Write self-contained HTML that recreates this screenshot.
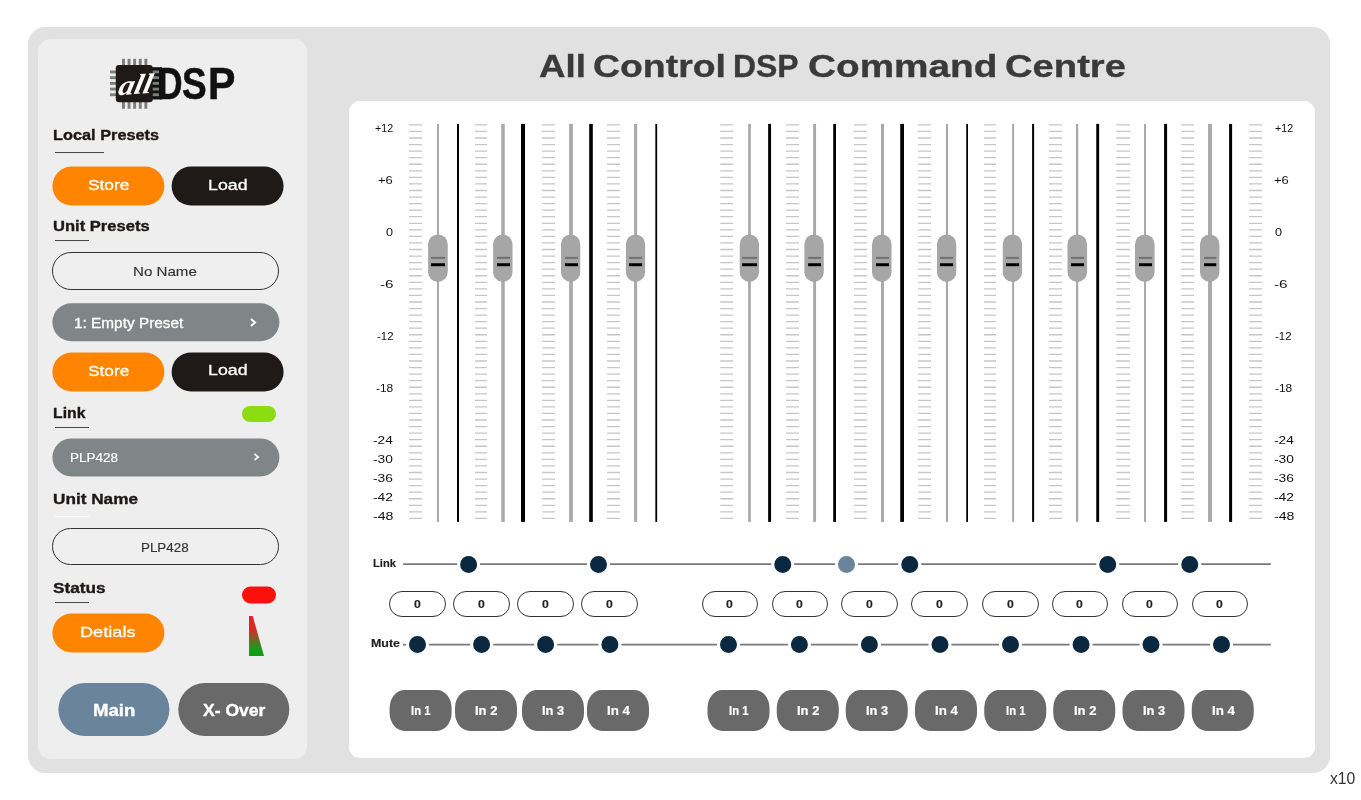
<!DOCTYPE html>
<html lang="en"><head><meta charset="utf-8"><title>All Control DSP Command Centre</title>
<style>
html,body{margin:0;padding:0;background:#fff;}
body{width:1361px;height:800px;position:relative;overflow:hidden;font-family:"Liberation Sans",sans-serif;}
.abs,.t,.btn,.box,.pill,.ul,.led{position:absolute;}
.t{white-space:pre;line-height:1;transform-origin:0 100%;display:block;}
.container{left:28px;top:27px;width:1302px;height:746px;border-radius:17px;background:#e1e1e1;}
.sidebar{left:38px;top:39px;width:269px;height:719.5px;border-radius:13px;background:#eeeeee;}
.panel{left:349px;top:101px;width:966.3px;height:657px;border-radius:11px;background:#fff;}
.btn{border-radius:30px;}
.orange{background:#ff8500;}
.black{background:#1f1a17;}
.main{background:#6a849b;}
.xover{background:#696969;}
.box{border:1px solid #333;border-radius:30px;box-sizing:border-box;background:#efefef;}
.pill{border-radius:30px;background:#808588;}
.ul{height:1.2px;background:#4a4a4a;}
.led{border-radius:10px;}
svg{position:absolute;left:0;top:0;overflow:visible;}
</style></head><body>

<div class="abs container"></div>
<aside>
<div class="abs sidebar"></div>
<svg width="1361" height="800" viewBox="0 0 1361 800" style="pointer-events:none">
<g id="logo">
<g fill="#7d7d7d">
<rect x="122.00" y="58.8" width="2.9" height="7" />
<rect x="122.00" y="101.5" width="2.9" height="7.3" />
<rect x="127.60" y="58.8" width="2.9" height="7" />
<rect x="127.60" y="101.5" width="2.9" height="7.3" />
<rect x="133.20" y="58.8" width="2.9" height="7" />
<rect x="133.20" y="101.5" width="2.9" height="7.3" />
<rect x="138.80" y="58.8" width="2.9" height="7" />
<rect x="138.80" y="101.5" width="2.9" height="7.3" />
<rect x="144.40" y="58.8" width="2.9" height="7" />
<rect x="144.40" y="101.5" width="2.9" height="7.3" />
</g>
<rect x="152" y="67.2" width="10" height="32.3" fill="#111"/>
<g fill="#7d7d7d">
<rect x="110" y="70.50" width="7" height="2.9" />
<rect x="152" y="70.50" width="7" height="2.9" />
<rect x="110" y="76.20" width="7" height="2.9" />
<rect x="152" y="76.20" width="7" height="2.9" />
<rect x="110" y="81.90" width="7" height="2.9" />
<rect x="152" y="81.90" width="7" height="2.9" />
<rect x="110" y="87.60" width="7" height="2.9" />
<rect x="152" y="87.60" width="7" height="2.9" />
<rect x="110" y="93.30" width="7" height="2.9" />
<rect x="152" y="93.30" width="7" height="2.9" />
</g>
<rect x="115.8" y="65" width="37" height="37.2" rx="3.2" fill="#1f1a17"/>
<text transform="translate(117.2 95.2) rotate(-4) skewX(-16)" x="0" y="0" font-family="Liberation Serif,serif" font-style="italic" font-weight="700" font-size="28" fill="#fff" textLength="33.5" lengthAdjust="spacingAndGlyphs">all</text>
</g>
</svg>
<span class="t" style="left:157.70px;top:61.60px;font-size:43.80px;color:#111;transform:scale(0.7740,1.000);font-weight:700;-webkit-text-stroke:0.55px #111;">D</span>
<span class="t" style="left:182.49px;top:61.60px;font-size:43.80px;color:#111;transform:scale(0.8428,1.000);font-weight:700;-webkit-text-stroke:0.55px #111;">S</span>
<span class="t" style="left:208.43px;top:61.60px;font-size:43.80px;color:#111;transform:scale(0.9373,1.000);font-weight:700;-webkit-text-stroke:0.55px #111;">P</span>
<span class="t" style="left:52.94px;top:126.80px;font-size:15.40px;color:#1d1716;transform:scale(1.0601,1.000);font-weight:700;-webkit-text-stroke:0.35px #1d1716;">Local Presets</span>
<div class="ul" style="left:55px;top:151.8px;width:49px"></div>
<div class="btn orange" style="left:52px;top:166px;width:112px;height:39px;transform:translate(0.40px,0.60px);"></div>
<div class="btn black" style="left:171px;top:166px;width:112px;height:39px;transform:translate(0.60px,0.60px);"></div>
<span class="t" style="left:87.82px;top:177.40px;font-size:15.00px;color:#fff;transform:scale(1.1536,1.000);-webkit-text-stroke:0.3px #fff;">Store</span>
<span class="t" style="left:208.18px;top:176.60px;font-size:15.00px;color:#fff;transform:scale(1.1859,1.000);-webkit-text-stroke:0.3px #fff;">Load</span>
<span class="t" style="left:53.01px;top:217.80px;font-size:15.40px;color:#1d1716;transform:scale(1.0756,1.000);font-weight:700;-webkit-text-stroke:0.35px #1d1716;">Unit Presets</span>
<div class="ul" style="left:55px;top:239.8px;width:34px"></div>
<div class="box" style="left:52px;top:252px;width:227px;height:38px;"></div>
<span class="t" style="left:132.79px;top:265.70px;font-size:12.60px;color:#333;transform:scale(1.2002,1.000);-webkit-text-stroke:0.15px #333;">No Name</span>
<div class="pill" style="left:52px;top:303px;width:227px;height:38px;transform:translate(0.40px,0.20px);"></div>
<span class="t" style="left:73.85px;top:315.60px;font-size:14.00px;color:#fff;transform:scale(1.0973,1.000);-webkit-text-stroke:0.3px #fff;">1: Empty Preset</span>
<div class="btn orange" style="left:52px;top:352px;width:112px;height:39px;transform:translate(0.40px,0.40px);"></div>
<div class="btn black" style="left:171px;top:352px;width:112px;height:39px;transform:translate(0.60px,0.40px);"></div>
<span class="t" style="left:87.82px;top:363.20px;font-size:15.00px;color:#fff;transform:scale(1.1536,1.000);-webkit-text-stroke:0.3px #fff;">Store</span>
<span class="t" style="left:208.18px;top:362.40px;font-size:15.00px;color:#fff;transform:scale(1.1859,1.000);-webkit-text-stroke:0.3px #fff;">Load</span>
<span class="t" style="left:52.97px;top:405.20px;font-size:15.40px;color:#1d1716;transform:scale(1.0246,1.000);font-weight:700;-webkit-text-stroke:0.35px #1d1716;">Link</span>
<div class="led" style="left:242px;top:406px;width:34px;height:16px;background:#8bdc10"></div>
<div class="ul" style="left:55px;top:426.8px;width:34px"></div>
<div class="pill" style="left:52px;top:438px;width:227px;height:38px;transform:translate(0.40px,0.40px);"></div>
<span class="t" style="left:69.52px;top:451.80px;font-size:12.60px;color:#fff;transform:scale(1.0705,1.000);-webkit-text-stroke:0.15px #fff;">PLP428</span>
<span class="t" style="left:52.97px;top:491.20px;font-size:15.40px;color:#1d1716;transform:scale(1.1166,1.000);font-weight:700;-webkit-text-stroke:0.35px #1d1716;">Unit Name</span>
<div class="ul" style="left:55px;top:515.8px;width:34px;background:#fff"></div>
<div class="box" style="left:52px;top:528px;width:227px;height:37px;"></div>
<span class="t" style="left:141.33px;top:541.80px;font-size:12.60px;color:#333;transform:scale(1.0613,1.000);-webkit-text-stroke:0.15px #333;">PLP428</span>
<span class="t" style="left:53.48px;top:579.80px;font-size:15.40px;color:#1d1716;transform:scale(1.1181,1.000);font-weight:700;-webkit-text-stroke:0.35px #1d1716;">Status</span>
<div class="led" style="left:242px;top:586px;width:34px;height:17px;transform:translate(0.00px,0.40px);background:#fb100c"></div>
<div class="ul" style="left:55px;top:601.8px;width:34px"></div>
<div class="btn orange" style="left:52px;top:613px;width:112px;height:39px;transform:translate(0.40px,0.40px);"></div>
<span class="t" style="left:80.15px;top:624.40px;font-size:15.00px;color:#fff;transform:scale(1.2109,1.000);-webkit-text-stroke:0.3px #fff;">Detials</span>
<div class="btn main" style="left:58px;top:683px;width:111px;height:53px;transform:translate(0.40px,0.00px);"></div>
<div class="btn xover" style="left:178px;top:683px;width:111px;height:53px;transform:translate(0.30px,0.00px);"></div>
<span class="t" style="left:92.99px;top:702.00px;font-size:16.40px;color:#fff;transform:scale(1.1344,1.000);font-weight:700;-webkit-text-stroke:0.35px #fff;">Main</span>
<span class="t" style="left:202.52px;top:702.00px;font-size:16.40px;color:#fff;transform:scale(1.0712,1.000);font-weight:700;-webkit-text-stroke:0.35px #fff;">X- Over</span>
<svg width="1361" height="800" viewBox="0 0 1361 800">
<path d="M251 318.9l4 3.6-4 3.6" stroke="#fff" stroke-width="2" fill="none"/>
<path d="M254.5 453.8l3.6 3.2-3.6 3.2" stroke="#fff" stroke-width="1.8" fill="none"/>
<defs><linearGradient id="rg" x1="0" y1="0" x2="0" y2="1"><stop offset="0" stop-color="#ee1c25"/><stop offset="0.35" stop-color="#d0302a"/><stop offset="0.8" stop-color="#1a9a1e"/><stop offset="1" stop-color="#0f9d18"/></linearGradient></defs>
<path d="M249 616H252.7L264 656H249Z" fill="url(#rg)"/>
</svg>
</aside>
<h1 style="margin:0;font-size:inherit;font-weight:inherit">
<span class="t" style="left:539.28px;top:50.60px;font-size:31.60px;color:#3a3a3a;transform:scale(1.1612,1.000);font-weight:700;-webkit-text-stroke:0.35px #3a3a3a;">All </span>
<span class="t" style="left:593.00px;top:50.60px;font-size:31.60px;color:#3a3a3a;transform:scale(1.1839,1.000);font-weight:700;-webkit-text-stroke:0.35px #3a3a3a;">Control </span>
<span class="t" style="left:732.92px;top:50.60px;font-size:31.60px;color:#3a3a3a;transform:scale(1.0107,1.000);font-weight:700;-webkit-text-stroke:0.35px #3a3a3a;">DSP </span>
<span class="t" style="left:808.15px;top:50.60px;font-size:31.60px;color:#3a3a3a;transform:scale(1.2261,1.000);font-weight:700;-webkit-text-stroke:0.35px #3a3a3a;">Command </span>
<span class="t" style="left:1004.97px;top:50.60px;font-size:31.60px;color:#3a3a3a;transform:scale(1.2085,1.000);font-weight:700;-webkit-text-stroke:0.35px #3a3a3a;">Centre </span>
</h1>
<main>
<div class="abs panel"></div>
<svg width="1361" height="800" viewBox="0 0 1361 800">
<path d="M409.00 124.90h13.10M409.00 131.46h13.10M409.00 138.02h13.10M409.00 144.58h13.10M409.00 151.13h13.10M409.00 157.69h13.10M409.00 164.25h13.10M409.00 170.81h13.10M409.00 177.37h13.10M409.00 183.93h13.10M409.00 190.48h13.10M409.00 197.04h13.10M409.00 203.60h13.10M409.00 210.16h13.10M409.00 216.72h13.10M409.00 223.28h13.10M409.00 229.83h13.10M409.00 236.39h13.10M409.00 242.95h13.10M409.00 249.51h13.10M409.00 256.07h13.10M409.00 262.62h13.10M409.00 269.18h13.10M409.00 275.74h13.10M409.00 282.30h13.10M409.00 288.86h13.10M409.00 295.42h13.10M409.00 301.98h13.10M409.00 308.53h13.10M409.00 315.09h13.10M409.00 321.65h13.10M409.00 328.21h13.10M409.00 334.77h13.10M409.00 341.33h13.10M409.00 347.88h13.10M409.00 354.44h13.10M409.00 361.00h13.10M409.00 367.56h13.10M409.00 374.12h13.10M409.00 380.68h13.10M409.00 387.23h13.10M409.00 393.79h13.10M409.00 400.35h13.10M409.00 406.91h13.10M409.00 413.47h13.10M409.00 420.02h13.10M409.00 426.58h13.10M409.00 433.14h13.10M409.00 439.70h13.10M409.00 446.26h13.10M409.00 452.82h13.10M409.00 459.38h13.10M409.00 465.93h13.10M409.00 472.49h13.10M409.00 479.05h13.10M409.00 485.61h13.10M409.00 492.17h13.10M409.00 498.73h13.10M409.00 505.28h13.10M409.00 511.84h13.10M409.00 518.40h13.10" stroke="#c6c6c6" stroke-width="1.3" fill="none"/>
<rect x="437.00" y="123.9" width="2" height="398" fill="#a9a9a9"/>
<rect x="457.00" y="123.9" width="2" height="398" fill="#000"/>
<rect x="428.1" y="234.4" width="19.65" height="47.5" rx="9.82" fill="#a6a6a6"/>
<rect x="431" y="256.9" width="14.00" height="1.9" fill="#6c6c6c"/>
<rect x="431" y="263.25" width="14.00" height="2.95" fill="#000"/>
<path d="M475.00 124.90h12.10M475.00 131.46h12.10M475.00 138.02h12.10M475.00 144.58h12.10M475.00 151.13h12.10M475.00 157.69h12.10M475.00 164.25h12.10M475.00 170.81h12.10M475.00 177.37h12.10M475.00 183.93h12.10M475.00 190.48h12.10M475.00 197.04h12.10M475.00 203.60h12.10M475.00 210.16h12.10M475.00 216.72h12.10M475.00 223.28h12.10M475.00 229.83h12.10M475.00 236.39h12.10M475.00 242.95h12.10M475.00 249.51h12.10M475.00 256.07h12.10M475.00 262.62h12.10M475.00 269.18h12.10M475.00 275.74h12.10M475.00 282.30h12.10M475.00 288.86h12.10M475.00 295.42h12.10M475.00 301.98h12.10M475.00 308.53h12.10M475.00 315.09h12.10M475.00 321.65h12.10M475.00 328.21h12.10M475.00 334.77h12.10M475.00 341.33h12.10M475.00 347.88h12.10M475.00 354.44h12.10M475.00 361.00h12.10M475.00 367.56h12.10M475.00 374.12h12.10M475.00 380.68h12.10M475.00 387.23h12.10M475.00 393.79h12.10M475.00 400.35h12.10M475.00 406.91h12.10M475.00 413.47h12.10M475.00 420.02h12.10M475.00 426.58h12.10M475.00 433.14h12.10M475.00 439.70h12.10M475.00 446.26h12.10M475.00 452.82h12.10M475.00 459.38h12.10M475.00 465.93h12.10M475.00 472.49h12.10M475.00 479.05h12.10M475.00 485.61h12.10M475.00 492.17h12.10M475.00 498.73h12.10M475.00 505.28h12.10M475.00 511.84h12.10M475.00 518.40h12.10" stroke="#c6c6c6" stroke-width="1.3" fill="none"/>
<rect x="501.25" y="123.9" width="3.5" height="398" fill="#a9a9a9"/>
<rect x="521.00" y="123.9" width="4" height="398" fill="#000"/>
<rect x="493.1" y="234.4" width="19.40" height="47.5" rx="9.70" fill="#a6a6a6"/>
<rect x="497" y="256.9" width="13.00" height="1.9" fill="#6c6c6c"/>
<rect x="497" y="263.25" width="13.00" height="2.95" fill="#000"/>
<path d="M542.10 124.90h12.90M542.10 131.46h12.90M542.10 138.02h12.90M542.10 144.58h12.90M542.10 151.13h12.90M542.10 157.69h12.90M542.10 164.25h12.90M542.10 170.81h12.90M542.10 177.37h12.90M542.10 183.93h12.90M542.10 190.48h12.90M542.10 197.04h12.90M542.10 203.60h12.90M542.10 210.16h12.90M542.10 216.72h12.90M542.10 223.28h12.90M542.10 229.83h12.90M542.10 236.39h12.90M542.10 242.95h12.90M542.10 249.51h12.90M542.10 256.07h12.90M542.10 262.62h12.90M542.10 269.18h12.90M542.10 275.74h12.90M542.10 282.30h12.90M542.10 288.86h12.90M542.10 295.42h12.90M542.10 301.98h12.90M542.10 308.53h12.90M542.10 315.09h12.90M542.10 321.65h12.90M542.10 328.21h12.90M542.10 334.77h12.90M542.10 341.33h12.90M542.10 347.88h12.90M542.10 354.44h12.90M542.10 361.00h12.90M542.10 367.56h12.90M542.10 374.12h12.90M542.10 380.68h12.90M542.10 387.23h12.90M542.10 393.79h12.90M542.10 400.35h12.90M542.10 406.91h12.90M542.10 413.47h12.90M542.10 420.02h12.90M542.10 426.58h12.90M542.10 433.14h12.90M542.10 439.70h12.90M542.10 446.26h12.90M542.10 452.82h12.90M542.10 459.38h12.90M542.10 465.93h12.90M542.10 472.49h12.90M542.10 479.05h12.90M542.10 485.61h12.90M542.10 492.17h12.90M542.10 498.73h12.90M542.10 505.28h12.90M542.10 511.84h12.90M542.10 518.40h12.90" stroke="#c6c6c6" stroke-width="1.3" fill="none"/>
<rect x="569.15" y="123.9" width="3.7" height="398" fill="#a9a9a9"/>
<rect x="589.20" y="123.9" width="3.6" height="398" fill="#000"/>
<rect x="561" y="234.4" width="19.25" height="47.5" rx="9.62" fill="#a6a6a6"/>
<rect x="565" y="256.9" width="13.00" height="1.9" fill="#6c6c6c"/>
<rect x="565" y="263.25" width="13.00" height="2.95" fill="#000"/>
<path d="M607.10 124.90h12.90M607.10 131.46h12.90M607.10 138.02h12.90M607.10 144.58h12.90M607.10 151.13h12.90M607.10 157.69h12.90M607.10 164.25h12.90M607.10 170.81h12.90M607.10 177.37h12.90M607.10 183.93h12.90M607.10 190.48h12.90M607.10 197.04h12.90M607.10 203.60h12.90M607.10 210.16h12.90M607.10 216.72h12.90M607.10 223.28h12.90M607.10 229.83h12.90M607.10 236.39h12.90M607.10 242.95h12.90M607.10 249.51h12.90M607.10 256.07h12.90M607.10 262.62h12.90M607.10 269.18h12.90M607.10 275.74h12.90M607.10 282.30h12.90M607.10 288.86h12.90M607.10 295.42h12.90M607.10 301.98h12.90M607.10 308.53h12.90M607.10 315.09h12.90M607.10 321.65h12.90M607.10 328.21h12.90M607.10 334.77h12.90M607.10 341.33h12.90M607.10 347.88h12.90M607.10 354.44h12.90M607.10 361.00h12.90M607.10 367.56h12.90M607.10 374.12h12.90M607.10 380.68h12.90M607.10 387.23h12.90M607.10 393.79h12.90M607.10 400.35h12.90M607.10 406.91h12.90M607.10 413.47h12.90M607.10 420.02h12.90M607.10 426.58h12.90M607.10 433.14h12.90M607.10 439.70h12.90M607.10 446.26h12.90M607.10 452.82h12.90M607.10 459.38h12.90M607.10 465.93h12.90M607.10 472.49h12.90M607.10 479.05h12.90M607.10 485.61h12.90M607.10 492.17h12.90M607.10 498.73h12.90M607.10 505.28h12.90M607.10 511.84h12.90M607.10 518.40h12.90" stroke="#c6c6c6" stroke-width="1.3" fill="none"/>
<rect x="634.10" y="123.9" width="3" height="398" fill="#a9a9a9"/>
<rect x="655.35" y="123.9" width="1.8" height="398" fill="#000"/>
<rect x="625.9" y="234.4" width="19.20" height="47.5" rx="9.60" fill="#a6a6a6"/>
<rect x="629.1" y="256.9" width="13.00" height="1.9" fill="#6c6c6c"/>
<rect x="629.1" y="263.25" width="13.00" height="2.95" fill="#000"/>
<path d="M720.25 124.90h12.90M720.25 131.46h12.90M720.25 138.02h12.90M720.25 144.58h12.90M720.25 151.13h12.90M720.25 157.69h12.90M720.25 164.25h12.90M720.25 170.81h12.90M720.25 177.37h12.90M720.25 183.93h12.90M720.25 190.48h12.90M720.25 197.04h12.90M720.25 203.60h12.90M720.25 210.16h12.90M720.25 216.72h12.90M720.25 223.28h12.90M720.25 229.83h12.90M720.25 236.39h12.90M720.25 242.95h12.90M720.25 249.51h12.90M720.25 256.07h12.90M720.25 262.62h12.90M720.25 269.18h12.90M720.25 275.74h12.90M720.25 282.30h12.90M720.25 288.86h12.90M720.25 295.42h12.90M720.25 301.98h12.90M720.25 308.53h12.90M720.25 315.09h12.90M720.25 321.65h12.90M720.25 328.21h12.90M720.25 334.77h12.90M720.25 341.33h12.90M720.25 347.88h12.90M720.25 354.44h12.90M720.25 361.00h12.90M720.25 367.56h12.90M720.25 374.12h12.90M720.25 380.68h12.90M720.25 387.23h12.90M720.25 393.79h12.90M720.25 400.35h12.90M720.25 406.91h12.90M720.25 413.47h12.90M720.25 420.02h12.90M720.25 426.58h12.90M720.25 433.14h12.90M720.25 439.70h12.90M720.25 446.26h12.90M720.25 452.82h12.90M720.25 459.38h12.90M720.25 465.93h12.90M720.25 472.49h12.90M720.25 479.05h12.90M720.25 485.61h12.90M720.25 492.17h12.90M720.25 498.73h12.90M720.25 505.28h12.90M720.25 511.84h12.90M720.25 518.40h12.90" stroke="#c6c6c6" stroke-width="1.3" fill="none"/>
<rect x="748.12" y="123.9" width="2.75" height="398" fill="#a9a9a9"/>
<rect x="768.15" y="123.9" width="2.9" height="398" fill="#000"/>
<rect x="739.75" y="234.4" width="19.25" height="47.5" rx="9.62" fill="#a6a6a6"/>
<rect x="742.1" y="256.9" width="15.00" height="1.9" fill="#6c6c6c"/>
<rect x="742.1" y="263.25" width="15.00" height="2.95" fill="#000"/>
<path d="M786.00 124.90h13.00M786.00 131.46h13.00M786.00 138.02h13.00M786.00 144.58h13.00M786.00 151.13h13.00M786.00 157.69h13.00M786.00 164.25h13.00M786.00 170.81h13.00M786.00 177.37h13.00M786.00 183.93h13.00M786.00 190.48h13.00M786.00 197.04h13.00M786.00 203.60h13.00M786.00 210.16h13.00M786.00 216.72h13.00M786.00 223.28h13.00M786.00 229.83h13.00M786.00 236.39h13.00M786.00 242.95h13.00M786.00 249.51h13.00M786.00 256.07h13.00M786.00 262.62h13.00M786.00 269.18h13.00M786.00 275.74h13.00M786.00 282.30h13.00M786.00 288.86h13.00M786.00 295.42h13.00M786.00 301.98h13.00M786.00 308.53h13.00M786.00 315.09h13.00M786.00 321.65h13.00M786.00 328.21h13.00M786.00 334.77h13.00M786.00 341.33h13.00M786.00 347.88h13.00M786.00 354.44h13.00M786.00 361.00h13.00M786.00 367.56h13.00M786.00 374.12h13.00M786.00 380.68h13.00M786.00 387.23h13.00M786.00 393.79h13.00M786.00 400.35h13.00M786.00 406.91h13.00M786.00 413.47h13.00M786.00 420.02h13.00M786.00 426.58h13.00M786.00 433.14h13.00M786.00 439.70h13.00M786.00 446.26h13.00M786.00 452.82h13.00M786.00 459.38h13.00M786.00 465.93h13.00M786.00 472.49h13.00M786.00 479.05h13.00M786.00 485.61h13.00M786.00 492.17h13.00M786.00 498.73h13.00M786.00 505.28h13.00M786.00 511.84h13.00M786.00 518.40h13.00" stroke="#c6c6c6" stroke-width="1.3" fill="none"/>
<rect x="813.15" y="123.9" width="2.9" height="398" fill="#a9a9a9"/>
<rect x="833.23" y="123.9" width="2.75" height="398" fill="#000"/>
<rect x="804.4" y="234.4" width="19.35" height="47.5" rx="9.68" fill="#a6a6a6"/>
<rect x="808.1" y="256.9" width="12.90" height="1.9" fill="#6c6c6c"/>
<rect x="808.1" y="263.25" width="12.90" height="2.95" fill="#000"/>
<path d="M854.00 124.90h12.90M854.00 131.46h12.90M854.00 138.02h12.90M854.00 144.58h12.90M854.00 151.13h12.90M854.00 157.69h12.90M854.00 164.25h12.90M854.00 170.81h12.90M854.00 177.37h12.90M854.00 183.93h12.90M854.00 190.48h12.90M854.00 197.04h12.90M854.00 203.60h12.90M854.00 210.16h12.90M854.00 216.72h12.90M854.00 223.28h12.90M854.00 229.83h12.90M854.00 236.39h12.90M854.00 242.95h12.90M854.00 249.51h12.90M854.00 256.07h12.90M854.00 262.62h12.90M854.00 269.18h12.90M854.00 275.74h12.90M854.00 282.30h12.90M854.00 288.86h12.90M854.00 295.42h12.90M854.00 301.98h12.90M854.00 308.53h12.90M854.00 315.09h12.90M854.00 321.65h12.90M854.00 328.21h12.90M854.00 334.77h12.90M854.00 341.33h12.90M854.00 347.88h12.90M854.00 354.44h12.90M854.00 361.00h12.90M854.00 367.56h12.90M854.00 374.12h12.90M854.00 380.68h12.90M854.00 387.23h12.90M854.00 393.79h12.90M854.00 400.35h12.90M854.00 406.91h12.90M854.00 413.47h12.90M854.00 420.02h12.90M854.00 426.58h12.90M854.00 433.14h12.90M854.00 439.70h12.90M854.00 446.26h12.90M854.00 452.82h12.90M854.00 459.38h12.90M854.00 465.93h12.90M854.00 472.49h12.90M854.00 479.05h12.90M854.00 485.61h12.90M854.00 492.17h12.90M854.00 498.73h12.90M854.00 505.28h12.90M854.00 511.84h12.90M854.00 518.40h12.90" stroke="#c6c6c6" stroke-width="1.3" fill="none"/>
<rect x="881.00" y="123.9" width="3" height="398" fill="#a9a9a9"/>
<rect x="900.23" y="123.9" width="3.75" height="398" fill="#000"/>
<rect x="872" y="234.4" width="19.50" height="47.5" rx="9.75" fill="#a6a6a6"/>
<rect x="876" y="256.9" width="13.00" height="1.9" fill="#6c6c6c"/>
<rect x="876" y="263.25" width="13.00" height="2.95" fill="#000"/>
<path d="M918.10 124.90h12.90M918.10 131.46h12.90M918.10 138.02h12.90M918.10 144.58h12.90M918.10 151.13h12.90M918.10 157.69h12.90M918.10 164.25h12.90M918.10 170.81h12.90M918.10 177.37h12.90M918.10 183.93h12.90M918.10 190.48h12.90M918.10 197.04h12.90M918.10 203.60h12.90M918.10 210.16h12.90M918.10 216.72h12.90M918.10 223.28h12.90M918.10 229.83h12.90M918.10 236.39h12.90M918.10 242.95h12.90M918.10 249.51h12.90M918.10 256.07h12.90M918.10 262.62h12.90M918.10 269.18h12.90M918.10 275.74h12.90M918.10 282.30h12.90M918.10 288.86h12.90M918.10 295.42h12.90M918.10 301.98h12.90M918.10 308.53h12.90M918.10 315.09h12.90M918.10 321.65h12.90M918.10 328.21h12.90M918.10 334.77h12.90M918.10 341.33h12.90M918.10 347.88h12.90M918.10 354.44h12.90M918.10 361.00h12.90M918.10 367.56h12.90M918.10 374.12h12.90M918.10 380.68h12.90M918.10 387.23h12.90M918.10 393.79h12.90M918.10 400.35h12.90M918.10 406.91h12.90M918.10 413.47h12.90M918.10 420.02h12.90M918.10 426.58h12.90M918.10 433.14h12.90M918.10 439.70h12.90M918.10 446.26h12.90M918.10 452.82h12.90M918.10 459.38h12.90M918.10 465.93h12.90M918.10 472.49h12.90M918.10 479.05h12.90M918.10 485.61h12.90M918.10 492.17h12.90M918.10 498.73h12.90M918.10 505.28h12.90M918.10 511.84h12.90M918.10 518.40h12.90" stroke="#c6c6c6" stroke-width="1.3" fill="none"/>
<rect x="945.95" y="123.9" width="2.1" height="398" fill="#a9a9a9"/>
<rect x="966.23" y="123.9" width="1.75" height="398" fill="#000"/>
<rect x="937" y="234.4" width="19.25" height="47.5" rx="9.62" fill="#a6a6a6"/>
<rect x="940" y="256.9" width="13.10" height="1.9" fill="#6c6c6c"/>
<rect x="940" y="263.25" width="13.10" height="2.95" fill="#000"/>
<path d="M984.00 124.90h12.00M984.00 131.46h12.00M984.00 138.02h12.00M984.00 144.58h12.00M984.00 151.13h12.00M984.00 157.69h12.00M984.00 164.25h12.00M984.00 170.81h12.00M984.00 177.37h12.00M984.00 183.93h12.00M984.00 190.48h12.00M984.00 197.04h12.00M984.00 203.60h12.00M984.00 210.16h12.00M984.00 216.72h12.00M984.00 223.28h12.00M984.00 229.83h12.00M984.00 236.39h12.00M984.00 242.95h12.00M984.00 249.51h12.00M984.00 256.07h12.00M984.00 262.62h12.00M984.00 269.18h12.00M984.00 275.74h12.00M984.00 282.30h12.00M984.00 288.86h12.00M984.00 295.42h12.00M984.00 301.98h12.00M984.00 308.53h12.00M984.00 315.09h12.00M984.00 321.65h12.00M984.00 328.21h12.00M984.00 334.77h12.00M984.00 341.33h12.00M984.00 347.88h12.00M984.00 354.44h12.00M984.00 361.00h12.00M984.00 367.56h12.00M984.00 374.12h12.00M984.00 380.68h12.00M984.00 387.23h12.00M984.00 393.79h12.00M984.00 400.35h12.00M984.00 406.91h12.00M984.00 413.47h12.00M984.00 420.02h12.00M984.00 426.58h12.00M984.00 433.14h12.00M984.00 439.70h12.00M984.00 446.26h12.00M984.00 452.82h12.00M984.00 459.38h12.00M984.00 465.93h12.00M984.00 472.49h12.00M984.00 479.05h12.00M984.00 485.61h12.00M984.00 492.17h12.00M984.00 498.73h12.00M984.00 505.28h12.00M984.00 511.84h12.00M984.00 518.40h12.00" stroke="#c6c6c6" stroke-width="1.3" fill="none"/>
<rect x="1012.10" y="123.9" width="2" height="398" fill="#a9a9a9"/>
<rect x="1032.10" y="123.9" width="2" height="398" fill="#000"/>
<rect x="1002.75" y="234.4" width="19.35" height="47.5" rx="9.68" fill="#a6a6a6"/>
<rect x="1006" y="256.9" width="13.10" height="1.9" fill="#6c6c6c"/>
<rect x="1006" y="263.25" width="13.10" height="2.95" fill="#000"/>
<path d="M1049.00 124.90h13.00M1049.00 131.46h13.00M1049.00 138.02h13.00M1049.00 144.58h13.00M1049.00 151.13h13.00M1049.00 157.69h13.00M1049.00 164.25h13.00M1049.00 170.81h13.00M1049.00 177.37h13.00M1049.00 183.93h13.00M1049.00 190.48h13.00M1049.00 197.04h13.00M1049.00 203.60h13.00M1049.00 210.16h13.00M1049.00 216.72h13.00M1049.00 223.28h13.00M1049.00 229.83h13.00M1049.00 236.39h13.00M1049.00 242.95h13.00M1049.00 249.51h13.00M1049.00 256.07h13.00M1049.00 262.62h13.00M1049.00 269.18h13.00M1049.00 275.74h13.00M1049.00 282.30h13.00M1049.00 288.86h13.00M1049.00 295.42h13.00M1049.00 301.98h13.00M1049.00 308.53h13.00M1049.00 315.09h13.00M1049.00 321.65h13.00M1049.00 328.21h13.00M1049.00 334.77h13.00M1049.00 341.33h13.00M1049.00 347.88h13.00M1049.00 354.44h13.00M1049.00 361.00h13.00M1049.00 367.56h13.00M1049.00 374.12h13.00M1049.00 380.68h13.00M1049.00 387.23h13.00M1049.00 393.79h13.00M1049.00 400.35h13.00M1049.00 406.91h13.00M1049.00 413.47h13.00M1049.00 420.02h13.00M1049.00 426.58h13.00M1049.00 433.14h13.00M1049.00 439.70h13.00M1049.00 446.26h13.00M1049.00 452.82h13.00M1049.00 459.38h13.00M1049.00 465.93h13.00M1049.00 472.49h13.00M1049.00 479.05h13.00M1049.00 485.61h13.00M1049.00 492.17h13.00M1049.00 498.73h13.00M1049.00 505.28h13.00M1049.00 511.84h13.00M1049.00 518.40h13.00" stroke="#c6c6c6" stroke-width="1.3" fill="none"/>
<rect x="1075.97" y="123.9" width="2.25" height="398" fill="#a9a9a9"/>
<rect x="1096.25" y="123.9" width="2.9" height="398" fill="#000"/>
<rect x="1067.5" y="234.4" width="19.60" height="47.5" rx="9.80" fill="#a6a6a6"/>
<rect x="1071" y="256.9" width="13.00" height="1.9" fill="#6c6c6c"/>
<rect x="1071" y="263.25" width="13.00" height="2.95" fill="#000"/>
<path d="M1116.25 124.90h13.75M1116.25 131.46h13.75M1116.25 138.02h13.75M1116.25 144.58h13.75M1116.25 151.13h13.75M1116.25 157.69h13.75M1116.25 164.25h13.75M1116.25 170.81h13.75M1116.25 177.37h13.75M1116.25 183.93h13.75M1116.25 190.48h13.75M1116.25 197.04h13.75M1116.25 203.60h13.75M1116.25 210.16h13.75M1116.25 216.72h13.75M1116.25 223.28h13.75M1116.25 229.83h13.75M1116.25 236.39h13.75M1116.25 242.95h13.75M1116.25 249.51h13.75M1116.25 256.07h13.75M1116.25 262.62h13.75M1116.25 269.18h13.75M1116.25 275.74h13.75M1116.25 282.30h13.75M1116.25 288.86h13.75M1116.25 295.42h13.75M1116.25 301.98h13.75M1116.25 308.53h13.75M1116.25 315.09h13.75M1116.25 321.65h13.75M1116.25 328.21h13.75M1116.25 334.77h13.75M1116.25 341.33h13.75M1116.25 347.88h13.75M1116.25 354.44h13.75M1116.25 361.00h13.75M1116.25 367.56h13.75M1116.25 374.12h13.75M1116.25 380.68h13.75M1116.25 387.23h13.75M1116.25 393.79h13.75M1116.25 400.35h13.75M1116.25 406.91h13.75M1116.25 413.47h13.75M1116.25 420.02h13.75M1116.25 426.58h13.75M1116.25 433.14h13.75M1116.25 439.70h13.75M1116.25 446.26h13.75M1116.25 452.82h13.75M1116.25 459.38h13.75M1116.25 465.93h13.75M1116.25 472.49h13.75M1116.25 479.05h13.75M1116.25 485.61h13.75M1116.25 492.17h13.75M1116.25 498.73h13.75M1116.25 505.28h13.75M1116.25 511.84h13.75M1116.25 518.40h13.75" stroke="#c6c6c6" stroke-width="1.3" fill="none"/>
<rect x="1144.00" y="123.9" width="2" height="398" fill="#a9a9a9"/>
<rect x="1164.10" y="123.9" width="3" height="398" fill="#000"/>
<rect x="1135" y="234.4" width="19.60" height="47.5" rx="9.80" fill="#a6a6a6"/>
<rect x="1139" y="256.9" width="13.00" height="1.9" fill="#6c6c6c"/>
<rect x="1139" y="263.25" width="13.00" height="2.95" fill="#000"/>
<path d="M1181.25 124.90h12.75M1181.25 131.46h12.75M1181.25 138.02h12.75M1181.25 144.58h12.75M1181.25 151.13h12.75M1181.25 157.69h12.75M1181.25 164.25h12.75M1181.25 170.81h12.75M1181.25 177.37h12.75M1181.25 183.93h12.75M1181.25 190.48h12.75M1181.25 197.04h12.75M1181.25 203.60h12.75M1181.25 210.16h12.75M1181.25 216.72h12.75M1181.25 223.28h12.75M1181.25 229.83h12.75M1181.25 236.39h12.75M1181.25 242.95h12.75M1181.25 249.51h12.75M1181.25 256.07h12.75M1181.25 262.62h12.75M1181.25 269.18h12.75M1181.25 275.74h12.75M1181.25 282.30h12.75M1181.25 288.86h12.75M1181.25 295.42h12.75M1181.25 301.98h12.75M1181.25 308.53h12.75M1181.25 315.09h12.75M1181.25 321.65h12.75M1181.25 328.21h12.75M1181.25 334.77h12.75M1181.25 341.33h12.75M1181.25 347.88h12.75M1181.25 354.44h12.75M1181.25 361.00h12.75M1181.25 367.56h12.75M1181.25 374.12h12.75M1181.25 380.68h12.75M1181.25 387.23h12.75M1181.25 393.79h12.75M1181.25 400.35h12.75M1181.25 406.91h12.75M1181.25 413.47h12.75M1181.25 420.02h12.75M1181.25 426.58h12.75M1181.25 433.14h12.75M1181.25 439.70h12.75M1181.25 446.26h12.75M1181.25 452.82h12.75M1181.25 459.38h12.75M1181.25 465.93h12.75M1181.25 472.49h12.75M1181.25 479.05h12.75M1181.25 485.61h12.75M1181.25 492.17h12.75M1181.25 498.73h12.75M1181.25 505.28h12.75M1181.25 511.84h12.75M1181.25 518.40h12.75" stroke="#c6c6c6" stroke-width="1.3" fill="none"/>
<rect x="1208.05" y="123.9" width="3.9" height="398" fill="#a9a9a9"/>
<rect x="1229.10" y="123.9" width="3" height="398" fill="#000"/>
<rect x="1200" y="234.4" width="19.40" height="47.5" rx="9.70" fill="#a6a6a6"/>
<rect x="1204.1" y="256.9" width="12.15" height="1.9" fill="#6c6c6c"/>
<rect x="1204.1" y="263.25" width="12.15" height="2.95" fill="#000"/>
<path d="M1249.10 124.90h13.00M1249.10 131.46h13.00M1249.10 138.02h13.00M1249.10 144.58h13.00M1249.10 151.13h13.00M1249.10 157.69h13.00M1249.10 164.25h13.00M1249.10 170.81h13.00M1249.10 177.37h13.00M1249.10 183.93h13.00M1249.10 190.48h13.00M1249.10 197.04h13.00M1249.10 203.60h13.00M1249.10 210.16h13.00M1249.10 216.72h13.00M1249.10 223.28h13.00M1249.10 229.83h13.00M1249.10 236.39h13.00M1249.10 242.95h13.00M1249.10 249.51h13.00M1249.10 256.07h13.00M1249.10 262.62h13.00M1249.10 269.18h13.00M1249.10 275.74h13.00M1249.10 282.30h13.00M1249.10 288.86h13.00M1249.10 295.42h13.00M1249.10 301.98h13.00M1249.10 308.53h13.00M1249.10 315.09h13.00M1249.10 321.65h13.00M1249.10 328.21h13.00M1249.10 334.77h13.00M1249.10 341.33h13.00M1249.10 347.88h13.00M1249.10 354.44h13.00M1249.10 361.00h13.00M1249.10 367.56h13.00M1249.10 374.12h13.00M1249.10 380.68h13.00M1249.10 387.23h13.00M1249.10 393.79h13.00M1249.10 400.35h13.00M1249.10 406.91h13.00M1249.10 413.47h13.00M1249.10 420.02h13.00M1249.10 426.58h13.00M1249.10 433.14h13.00M1249.10 439.70h13.00M1249.10 446.26h13.00M1249.10 452.82h13.00M1249.10 459.38h13.00M1249.10 465.93h13.00M1249.10 472.49h13.00M1249.10 479.05h13.00M1249.10 485.61h13.00M1249.10 492.17h13.00M1249.10 498.73h13.00M1249.10 505.28h13.00M1249.10 511.84h13.00M1249.10 518.40h13.00" stroke="#c6c6c6" stroke-width="1.3" fill="none"/>
<path d="M403.1 564.2H1270.8M403.1 644.7H1270.8" stroke="#7a7a7a" stroke-width="1.75" fill="none"/>
<circle cx="468.6" cy="564.4" r="10" fill="#0a2840" stroke="#fff" stroke-width="3"/>
<circle cx="598.5" cy="564.4" r="10" fill="#0a2840" stroke="#fff" stroke-width="3"/>
<circle cx="782.75" cy="564.4" r="10" fill="#0a2840" stroke="#fff" stroke-width="3"/>
<circle cx="846.5" cy="564.4" r="10" fill="#6a849b" stroke="#fff" stroke-width="3"/>
<circle cx="909.75" cy="564.4" r="10" fill="#0a2840" stroke="#fff" stroke-width="3"/>
<circle cx="1107.75" cy="564.4" r="10" fill="#0a2840" stroke="#fff" stroke-width="3"/>
<circle cx="1189.75" cy="564.4" r="10" fill="#0a2840" stroke="#fff" stroke-width="3"/>
<circle cx="417.5" cy="644.5" r="10" fill="#0a2840" stroke="#fff" stroke-width="3"/>
<circle cx="481.6" cy="644.5" r="10" fill="#0a2840" stroke="#fff" stroke-width="3"/>
<circle cx="545.6" cy="644.5" r="10" fill="#0a2840" stroke="#fff" stroke-width="3"/>
<circle cx="609.9" cy="644.5" r="10" fill="#0a2840" stroke="#fff" stroke-width="3"/>
<circle cx="728.5" cy="644.5" r="10" fill="#0a2840" stroke="#fff" stroke-width="3"/>
<circle cx="799.4" cy="644.5" r="10" fill="#0a2840" stroke="#fff" stroke-width="3"/>
<circle cx="869.4" cy="644.5" r="10" fill="#0a2840" stroke="#fff" stroke-width="3"/>
<circle cx="940" cy="644.5" r="10" fill="#0a2840" stroke="#fff" stroke-width="3"/>
<circle cx="1010.5" cy="644.5" r="10" fill="#0a2840" stroke="#fff" stroke-width="3"/>
<circle cx="1081.1" cy="644.5" r="10" fill="#0a2840" stroke="#fff" stroke-width="3"/>
<circle cx="1151" cy="644.5" r="10" fill="#0a2840" stroke="#fff" stroke-width="3"/>
<circle cx="1221.5" cy="644.5" r="10" fill="#0a2840" stroke="#fff" stroke-width="3"/>
</svg>
<span class="t" style="left:374.97px;top:123.35px;font-size:10.60px;color:#111;transform:scale(1.0055,1.000);">+12</span>
<span class="t" style="left:1274.57px;top:123.35px;font-size:10.60px;color:#111;transform:scale(1.0055,1.000);">+12</span>
<span class="t" style="left:378.25px;top:175.05px;font-size:10.60px;color:#111;transform:scale(1.2278,1.000);">+6</span>
<span class="t" style="left:1274.45px;top:175.05px;font-size:10.60px;color:#111;transform:scale(1.2278,1.000);">+6</span>
<span class="t" style="left:385.99px;top:226.85px;font-size:10.60px;color:#111;transform:scale(1.1917,1.000);">0</span>
<span class="t" style="left:1274.59px;top:226.85px;font-size:10.60px;color:#111;transform:scale(1.1917,1.000);">0</span>
<span class="t" style="left:379.61px;top:278.85px;font-size:10.60px;color:#111;transform:scale(1.4387,1.000);">-6</span>
<span class="t" style="left:1274.41px;top:278.85px;font-size:10.60px;color:#111;transform:scale(1.4387,1.000);">-6</span>
<span class="t" style="left:376.59px;top:330.85px;font-size:10.60px;color:#111;transform:scale(1.0762,1.000);">-12</span>
<span class="t" style="left:1274.59px;top:330.85px;font-size:10.60px;color:#111;transform:scale(1.0762,1.000);">-12</span>
<span class="t" style="left:375.76px;top:382.85px;font-size:10.60px;color:#111;transform:scale(1.1238,1.000);">-18</span>
<span class="t" style="left:1274.56px;top:382.85px;font-size:10.60px;color:#111;transform:scale(1.1238,1.000);">-18</span>
<span class="t" style="left:373.19px;top:435.45px;font-size:10.60px;color:#111;transform:scale(1.2877,1.000);">-24</span>
<span class="t" style="left:1274.49px;top:435.45px;font-size:10.60px;color:#111;transform:scale(1.2877,1.000);">-24</span>
<span class="t" style="left:373.18px;top:454.45px;font-size:10.60px;color:#111;transform:scale(1.2972,1.000);">-30</span>
<span class="t" style="left:1274.48px;top:454.45px;font-size:10.60px;color:#111;transform:scale(1.2972,1.000);">-30</span>
<span class="t" style="left:373.18px;top:472.85px;font-size:10.60px;color:#111;transform:scale(1.3020,1.000);">-36</span>
<span class="t" style="left:1274.48px;top:472.85px;font-size:10.60px;color:#111;transform:scale(1.3020,1.000);">-36</span>
<span class="t" style="left:373.18px;top:491.95px;font-size:10.60px;color:#111;transform:scale(1.3068,1.000);">-42</span>
<span class="t" style="left:1274.48px;top:491.95px;font-size:10.60px;color:#111;transform:scale(1.3068,1.000);">-42</span>
<span class="t" style="left:372.66px;top:511.05px;font-size:10.60px;color:#111;transform:scale(1.3319,1.000);">-48</span>
<span class="t" style="left:1274.46px;top:511.05px;font-size:10.60px;color:#111;transform:scale(1.3319,1.000);">-48</span>
<span class="t" style="left:372.67px;top:558.55px;font-size:10.40px;color:#222;transform:scale(1.0727,1.000);font-weight:700;-webkit-text-stroke:0.15px #222;">Link</span>
<span class="t" style="left:371.19px;top:638.60px;font-size:10.40px;color:#222;transform:scale(1.1965,1.000);font-weight:700;-webkit-text-stroke:0.15px #222;">Mute</span>
<div class="box" style="left:389px;top:591px;width:57px;height:26px;background:#fff"></div>
<span class="t" style="left:413.59px;top:598.50px;font-size:10.80px;color:#222;transform:scale(1.1306,1.000);font-weight:700;-webkit-text-stroke:0.15px #222;">0</span>
<div class="box" style="left:453px;top:591px;width:57px;height:26px;background:#fff"></div>
<span class="t" style="left:477.54px;top:598.50px;font-size:10.80px;color:#222;transform:scale(1.1306,1.000);font-weight:700;-webkit-text-stroke:0.15px #222;">0</span>
<div class="box" style="left:517px;top:591px;width:57px;height:26px;background:#fff"></div>
<span class="t" style="left:541.59px;top:598.50px;font-size:10.80px;color:#222;transform:scale(1.1306,1.000);font-weight:700;-webkit-text-stroke:0.15px #222;">0</span>
<div class="box" style="left:581px;top:591px;width:57px;height:26px;background:#fff"></div>
<span class="t" style="left:605.71px;top:598.50px;font-size:10.80px;color:#222;transform:scale(1.1306,1.000);font-weight:700;-webkit-text-stroke:0.15px #222;">0</span>
<div class="box" style="left:702px;top:591px;width:56px;height:26px;background:#fff"></div>
<span class="t" style="left:726.09px;top:598.50px;font-size:10.80px;color:#222;transform:scale(1.1306,1.000);font-weight:700;-webkit-text-stroke:0.15px #222;">0</span>
<div class="box" style="left:772px;top:591px;width:56px;height:26px;background:#fff"></div>
<span class="t" style="left:795.96px;top:598.50px;font-size:10.80px;color:#222;transform:scale(1.1306,1.000);font-weight:700;-webkit-text-stroke:0.15px #222;">0</span>
<div class="box" style="left:841px;top:591px;width:57px;height:26px;background:#fff"></div>
<span class="t" style="left:865.84px;top:598.50px;font-size:10.80px;color:#222;transform:scale(1.1306,1.000);font-weight:700;-webkit-text-stroke:0.15px #222;">0</span>
<div class="box" style="left:911px;top:591px;width:57px;height:26px;background:#fff"></div>
<span class="t" style="left:935.84px;top:598.50px;font-size:10.80px;color:#222;transform:scale(1.1306,1.000);font-weight:700;-webkit-text-stroke:0.15px #222;">0</span>
<div class="box" style="left:982px;top:591px;width:57px;height:26px;background:#fff"></div>
<span class="t" style="left:1006.59px;top:598.50px;font-size:10.80px;color:#222;transform:scale(1.1306,1.000);font-weight:700;-webkit-text-stroke:0.15px #222;">0</span>
<div class="box" style="left:1052px;top:591px;width:56px;height:26px;background:#fff"></div>
<span class="t" style="left:1076.34px;top:598.50px;font-size:10.80px;color:#222;transform:scale(1.1306,1.000);font-weight:700;-webkit-text-stroke:0.15px #222;">0</span>
<div class="box" style="left:1122px;top:591px;width:56px;height:26px;background:#fff"></div>
<span class="t" style="left:1146.21px;top:598.50px;font-size:10.80px;color:#222;transform:scale(1.1306,1.000);font-weight:700;-webkit-text-stroke:0.15px #222;">0</span>
<div class="box" style="left:1192px;top:591px;width:56px;height:26px;background:#fff"></div>
<span class="t" style="left:1216.09px;top:598.50px;font-size:10.80px;color:#222;transform:scale(1.1306,1.000);font-weight:700;-webkit-text-stroke:0.15px #222;">0</span>
<div class="btn" style="left:389px;top:689px;width:62px;height:41px;transform:translate(0.60px,0.90px);background:#696969;border-radius:15px/18px"></div>
<span class="t" style="left:411.32px;top:704.90px;font-size:12.40px;color:#fff;transform:scale(0.9104,1.000);font-weight:700;-webkit-text-stroke:0.2px #fff;">In 1</span>
<div class="btn" style="left:455px;top:689px;width:62px;height:41px;transform:translate(0.00px,0.90px);background:#696969;border-radius:15px/18px"></div>
<span class="t" style="left:475.30px;top:704.90px;font-size:12.40px;color:#fff;transform:scale(1.0486,1.000);font-weight:700;-webkit-text-stroke:0.2px #fff;">In 2</span>
<div class="btn" style="left:522px;top:689px;width:62px;height:41px;transform:translate(0.00px,0.90px);background:#696969;border-radius:15px/18px"></div>
<span class="t" style="left:542.44px;top:704.90px;font-size:12.40px;color:#fff;transform:scale(1.0330,1.000);font-weight:700;-webkit-text-stroke:0.2px #fff;">In 3</span>
<div class="btn" style="left:587px;top:689px;width:62px;height:41px;transform:translate(0.00px,0.90px);background:#696969;border-radius:15px/18px"></div>
<span class="t" style="left:606.78px;top:704.90px;font-size:12.40px;color:#fff;transform:scale(1.0753,1.000);font-weight:700;-webkit-text-stroke:0.2px #fff;">In 4</span>
<div class="btn" style="left:707px;top:689px;width:62px;height:41px;transform:translate(0.50px,0.90px);background:#696969;border-radius:15px/18px"></div>
<span class="t" style="left:729.22px;top:704.90px;font-size:12.40px;color:#fff;transform:scale(0.9104,1.000);font-weight:700;-webkit-text-stroke:0.2px #fff;">In 1</span>
<div class="btn" style="left:776px;top:689px;width:62px;height:41px;transform:translate(0.75px,0.90px);background:#696969;border-radius:15px/18px"></div>
<span class="t" style="left:797.05px;top:704.90px;font-size:12.40px;color:#fff;transform:scale(1.0486,1.000);font-weight:700;-webkit-text-stroke:0.2px #fff;">In 2</span>
<div class="btn" style="left:845px;top:689px;width:62px;height:41px;transform:translate(0.75px,0.90px);background:#696969;border-radius:15px/18px"></div>
<span class="t" style="left:866.19px;top:704.90px;font-size:12.40px;color:#fff;transform:scale(1.0330,1.000);font-weight:700;-webkit-text-stroke:0.2px #fff;">In 3</span>
<div class="btn" style="left:915px;top:689px;width:62px;height:41px;transform:translate(0.00px,0.90px);background:#696969;border-radius:15px/18px"></div>
<span class="t" style="left:934.78px;top:704.90px;font-size:12.40px;color:#fff;transform:scale(1.0753,1.000);font-weight:700;-webkit-text-stroke:0.2px #fff;">In 4</span>
<div class="btn" style="left:984px;top:689px;width:62px;height:41px;transform:translate(0.25px,0.90px);background:#696969;border-radius:15px/18px"></div>
<span class="t" style="left:1005.97px;top:704.90px;font-size:12.40px;color:#fff;transform:scale(0.9104,1.000);font-weight:700;-webkit-text-stroke:0.2px #fff;">In 1</span>
<div class="btn" style="left:1053px;top:689px;width:62px;height:41px;transform:translate(0.25px,0.90px);background:#696969;border-radius:15px/18px"></div>
<span class="t" style="left:1073.55px;top:704.90px;font-size:12.40px;color:#fff;transform:scale(1.0486,1.000);font-weight:700;-webkit-text-stroke:0.2px #fff;">In 2</span>
<div class="btn" style="left:1122px;top:689px;width:62px;height:41px;transform:translate(0.50px,0.90px);background:#696969;border-radius:15px/18px"></div>
<span class="t" style="left:1142.94px;top:704.90px;font-size:12.40px;color:#fff;transform:scale(1.0330,1.000);font-weight:700;-webkit-text-stroke:0.2px #fff;">In 3</span>
<div class="btn" style="left:1191px;top:689px;width:62px;height:41px;transform:translate(0.75px,0.90px);background:#696969;border-radius:15px/18px"></div>
<span class="t" style="left:1211.53px;top:704.90px;font-size:12.40px;color:#fff;transform:scale(1.0753,1.000);font-weight:700;-webkit-text-stroke:0.2px #fff;">In 4</span>
</main>
<span class="t" style="left:1330.26px;top:770.25px;font-size:17.30px;color:#333;transform:scale(0.9107,1.000);">x10</span>
</body></html>
